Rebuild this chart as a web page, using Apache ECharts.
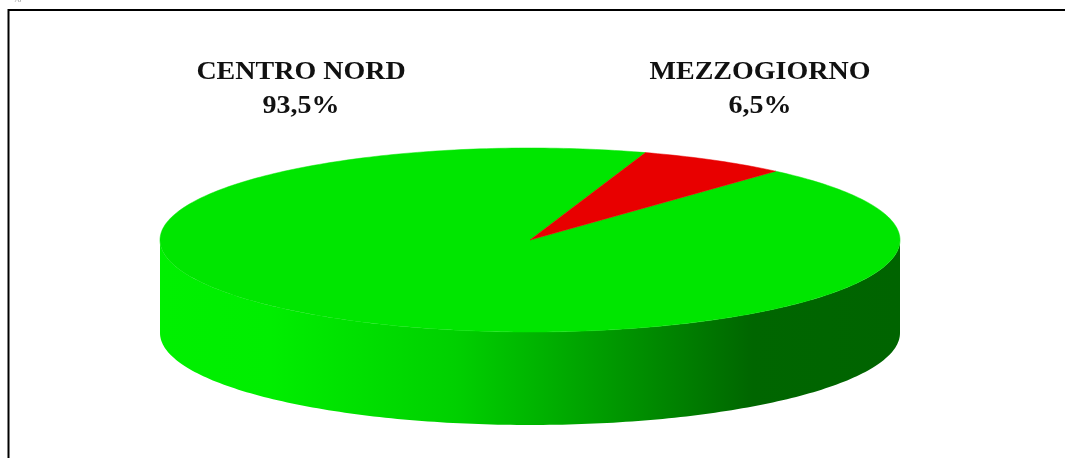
<!DOCTYPE html>
<html>
<head>
<meta charset="utf-8">
<script src="https://cdn.jsdelivr.net/npm/echarts@6/dist/echarts.min.js"></script>
<style>
  html, body { margin: 0; padding: 0; background: #fff; }
  #chart { width: 1065px; height: 458px; }
</style>
</head>
<body>
<div id="chart"></div>
<script>
const categories = ['CENTRO NORD', 'MEZZOGIORNO'];
const shares = [93.5, 6.5];

(() => {
  // geometria della torta "3D" (ellisse + bordo)
  const CX = 530, CY = 240, RX = 370, RY = 92, DEPTH = 93;
  const START_ANGLE = 48.4; // gradi, senso orario
  const topColors = ['#00e600', '#e80000'];
  const sideStops = [
    [
      { offset: 0, color: '#00f000' },
      { offset: 0.15, color: '#00ee00' },
      { offset: 0.4, color: '#00d000' },
      { offset: 0.5, color: '#00b600' },
      { offset: 0.65, color: '#008e00' },
      { offset: 0.8, color: '#006600' },
      { offset: 1, color: '#006400' }
    ],
    [
      { offset: 0, color: '#f00000' },
      { offset: 1, color: '#700000' }
    ]
  ];
  const labelPos = [[301, 90], [760, 90]];

  const total = shares.reduce((a, b) => a + b, 0);

  function pt(deg, dy) {
    const r = deg * Math.PI / 180;
    return [CX + RX * Math.cos(r), CY - RY * Math.sin(r) + (dy || 0)];
  }

  function arc(from, to, dy) {
    const out = [];
    const n = Math.max(2, Math.ceil(Math.abs(from - to)));
    for (let j = 0; j <= n; j++) {
      out.push(pt(from + (to - from) * j / n, dy));
    }
    return out;
  }

  function renderItem(params, api) {
    const i = params.dataIndex;
    const value = api.value(1);
    let a = START_ANGLE;
    for (let k = 0; k < i; k++) a -= 360 * shares[k] / total;
    const b = a - 360 * value / total;

    const children = [];

    // bordo frontale (solo la metà inferiore dell'ellisse è visibile)
    for (let k = -2; k <= 1; k++) {
      const lo = Math.max(b, 180 + 360 * k);
      const hi = Math.min(a, 360 + 360 * k);
      if (hi > lo) {
        const pts = arc(lo, hi, 0).concat(arc(hi, lo, DEPTH));
        children.push({
          type: 'polygon',
          z2: 1,
          shape: { points: pts },
          style: {
            fill: new echarts.graphic.LinearGradient(CX - RX, 0, CX + RX, 0, sideStops[i], true)
          }
        });
      }
    }

    // faccia superiore
    children.push({
      type: 'polygon',
      z2: 10,
      shape: { points: [[CX, CY]].concat(arc(a, b, 0)) },
      style: { fill: topColors[i], stroke: topColors[i], lineWidth: 0.5 }
    });

    // etichetta (il testo originale è un po' allargato)
    const pct = (value / total * 100).toFixed(1).replace('.', ',') + '%';
    children.push({
      type: 'text',
      z2: 20,
      x: labelPos[i][0],
      y: labelPos[i][1],
      scaleX: 1.12,
      style: {
        text: categories[i] + '\n' + pct,
        fill: '#111',
        fontFamily: '"Liberation Serif", "Times New Roman", serif',
        fontWeight: 'bold',
        fontSize: 25,
        lineHeight: 34,
        align: 'center',
        verticalAlign: 'middle'
      }
    });

    return { type: 'group', children: children };
  }

  const myChart = echarts.init(document.getElementById('chart'));
  const option = {
    animation: false,
    graphic: [
      {
        type: 'rect',
        shape: { x: 8.5, y: 10, width: 1100, height: 500 },
        style: { fill: 'none', stroke: '#000', lineWidth: 2 }
      },
      {
        type: 'text',
        x: 13,
        y: -6,
        style: { text: '%', fill: '#999', fontSize: 10, fontFamily: 'Liberation Serif' }
      }
    ],
    series: [
      {
        type: 'custom',
        coordinateSystem: 'none',
        renderItem: renderItem,
        data: categories.map((c, i) => [i, shares[i]])
      }
    ]
  };
  myChart.setOption(option);
})();
</script>
</body>
</html>
